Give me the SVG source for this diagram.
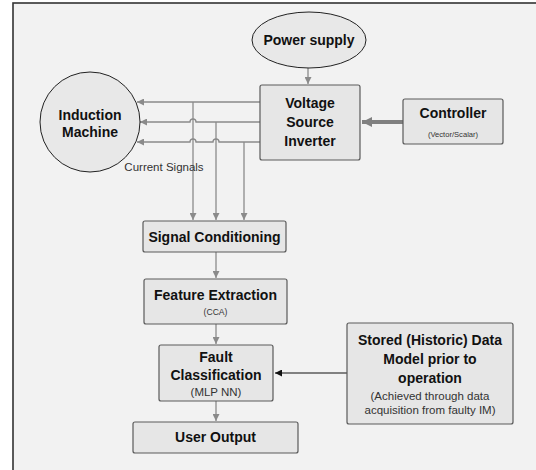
<svg xmlns="http://www.w3.org/2000/svg" width="536" height="470" viewBox="0 0 536 470">
<defs>
<style>
.bg{fill:#f2f2f2;stroke:#333;stroke-width:1.6}
.box{fill:#e6e6e6;stroke:#5a5a5a;stroke-width:1.2}
.shape{fill:#e8e8e8;stroke:#222;stroke-width:1}
.b{font-family:"Liberation Sans",Arial,sans-serif;font-weight:bold;font-size:14px;fill:#111;text-anchor:middle}
.s{font-family:"Liberation Sans",Arial,sans-serif;font-size:11.5px;fill:#333;text-anchor:middle}
.g{fill:none;stroke:#8a8a8a;stroke-width:1.3}
.k{fill:none;stroke:#111;stroke-width:1.1}
</style>
<marker id="ag" viewBox="0 0 10 10" refX="10" refY="5" markerWidth="7" markerHeight="7" markerUnits="userSpaceOnUse" orient="auto">
<path d="M0,0 L10,5 L0,10 z" fill="#8a8a8a"/>
</marker>
<marker id="ak" viewBox="0 0 10 10" refX="10" refY="5" markerWidth="7" markerHeight="7" markerUnits="userSpaceOnUse" orient="auto">
<path d="M0,0 L10,5 L0,10 z" fill="#111"/>
</marker>
<marker id="at" viewBox="0 0 10 10" refX="10" refY="5" markerWidth="10" markerHeight="12" markerUnits="userSpaceOnUse" orient="auto">
<path d="M0,0 L10,5 L0,10 z" fill="#808080"/>
</marker>
</defs>
<rect x="13" y="3" width="540" height="480" class="bg"/>
<g id="connectors">
<path class="g" d="M308,68 V84" marker-end="url(#ag)"/>
<path d="M403,122 H362" stroke="#808080" stroke-width="4" fill="none" marker-end="url(#at)"/>
<path class="g" d="M260,102 H137" marker-end="url(#ag)"/>
<path class="g" d="M260,122 H196 a3,3 0 0 0 -6,0 H140" marker-end="url(#ag)"/>
<path class="g" d="M260,142 H219 a3,3 0 0 0 -6,0 H196 a3,3 0 0 0 -6,0 H137" marker-end="url(#ag)"/>
<path class="g" d="M193,102 V220" marker-end="url(#ag)"/>
<path class="g" d="M216,122 V220" marker-end="url(#ag)"/>
<path class="g" d="M244,142 V220" marker-end="url(#ag)"/>
<path class="g" d="M216,252 V278" marker-end="url(#ag)"/>
<path class="g" d="M216,324 V344" marker-end="url(#ag)"/>
<path class="g" d="M216,401 V421" marker-end="url(#ag)"/>
<path class="k" d="M347,373 H275" marker-end="url(#ak)"/>
</g>
<g id="power-supply">
<ellipse cx="309" cy="40" rx="57" ry="28" class="shape"/>
<text x="309" y="45" class="b">Power supply</text>
</g>
<g id="induction-machine">
<circle cx="90" cy="122" r="50" class="shape"/>
<text x="90" y="120" class="b">Induction</text>
<text x="90" y="137" class="b">Machine</text>
</g>
<g id="vsi">
<rect x="260" y="85" width="100" height="75" rx="2" class="box"/>
<text x="310" y="108" class="b">Voltage</text>
<text x="310" y="127" class="b">Source</text>
<text x="310" y="146" class="b">Inverter</text>
</g>
<g id="controller">
<rect x="403" y="99" width="100" height="45" rx="2" class="box"/>
<text x="453" y="118" class="b">Controller</text>
<text x="453" y="137" class="s" style="font-size:7.6px">(Vector/Scalar)</text>
</g>
<text x="164" y="171" class="s">Current Signals</text>
<g id="signal-conditioning">
<rect x="143" y="221" width="143" height="31" rx="2" class="box"/>
<text x="214.5" y="242" class="b">Signal Conditioning</text>
</g>
<g id="feature-extraction">
<rect x="144" y="279" width="143" height="45" rx="2" class="box"/>
<text x="215.5" y="300" class="b">Feature Extraction</text>
<text x="215.5" y="315" class="s" style="font-size:8.6px">(CCA)</text>
</g>
<g id="fault-classification">
<rect x="159" y="345" width="114" height="56" rx="2" class="box"/>
<text x="216" y="362" class="b">Fault</text>
<text x="216" y="380" class="b">Classification</text>
<text x="216" y="396" class="s">(MLP NN)</text>
</g>
<g id="user-output">
<rect x="133" y="422" width="165" height="31" rx="2" class="box"/>
<text x="215.5" y="442" class="b">User Output</text>
</g>
<g id="stored-data">
<rect x="347" y="323" width="166" height="101" rx="2" class="box"/>
<text x="430" y="345" class="b">Stored (Historic) Data</text>
<text x="430" y="364" class="b">Model prior to</text>
<text x="430" y="383" class="b">operation</text>
<text x="430" y="400" class="s">(Achieved through data</text>
<text x="430" y="414" class="s">acquisition from faulty IM)</text>
</g>
</svg>
